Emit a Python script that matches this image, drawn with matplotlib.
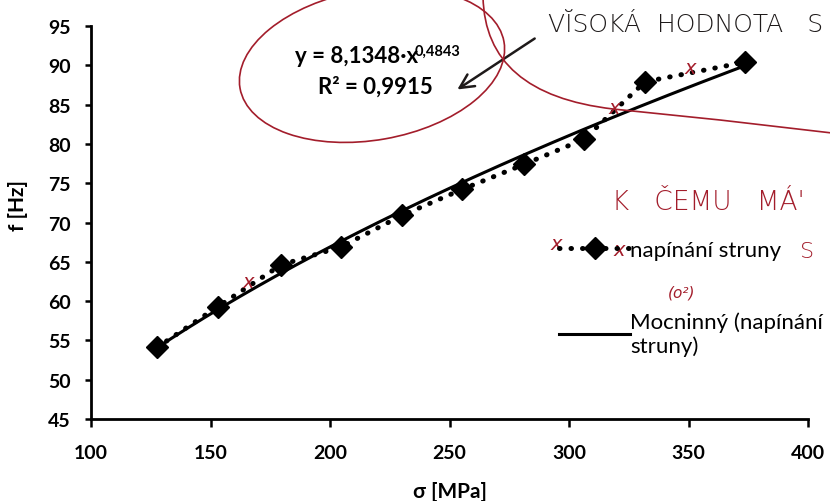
import numpy as np
import matplotlib
matplotlib.use("Agg")
import matplotlib.pyplot as plt
from matplotlib.patches import Ellipse, PathPatch
from matplotlib.path import Path
from matplotlib.transforms import IdentityTransform

plt.rcParams["font.family"] = ["Lato", "DejaVu Sans"]

# napínání struny: stress [MPa] vs. frequency [Hz]
sigma = [127.6, 153.1, 179.5, 204.6, 230.1, 255.2, 281.2, 306.3, 331.8, 373.6]
freq = [54.1, 59.3, 64.6, 66.9, 70.9, 74.2, 77.4, 80.6, 87.9, 90.4]

xticks = [100, 150, 200, 250, 300, 350, 400]
yticks = [45, 50, 55, 60, 65, 70, 75, 80, 85, 90, 95]

RED = "#a31d2b"
INK = "#1e1a1a"
H = 502  # figure height in px, for the handwritten notes

fig = plt.figure(figsize=(8.3, 5.02), dpi=100)
ax = fig.add_axes([91/830, 82/502, 717/830, 393/502])

# power trendline fitted to the data (log-log)
b, a = np.polyfit(np.log(sigma), np.log(freq), 1)
xs = np.linspace(min(sigma), max(sigma), 200)
ax.plot(xs, np.exp(a) * xs**b, color="black", lw=2.2,
        label="Mocninný (napínání\nstruny)", zorder=2)
ax.plot(sigma, freq, ls=(0, (0.1, 2.2)), dash_capstyle="round", lw=3.6,
        color="black", marker="D", ms=11, label="napínání struny", zorder=3)

ax.set_xlim(100, 400)
ax.set_ylim(45, 95)
ax.set_xticks(xticks)
ax.set_yticks(yticks)
for s in ["top", "right"]:
    ax.spines[s].set_visible(False)
for s in ["left", "bottom"]:
    ax.spines[s].set_linewidth(2)
ax.tick_params(direction="out", width=1.8, labelsize=14)
ax.tick_params(axis="x", length=6, pad=12)
ax.tick_params(axis="y", length=4.5, pad=10)
for lab in ax.get_xticklabels() + ax.get_yticklabels():
    lab.set_fontweight("bold")
ax.set_xlabel("σ [MPa]", fontsize=15, fontweight="bold")
ax.set_ylabel("f [Hz]", fontsize=15, fontweight="bold")
ax.xaxis.set_label_coords(0.50, -0.158)
ax.yaxis.set_label_coords(-0.088, 0.547)

h, l = ax.get_legend_handles_labels()
fig.legend(h[::-1], l[::-1], loc="upper left", bbox_to_anchor=(548/830, 1 - 230/H),
           frameon=False, fontsize=16, handlelength=3.2, handletextpad=0.0,
           labelspacing=2.3, borderpad=0)

# trendline equation
fig.text(295/830, 1 - 63/H, "y = 8,1348·x", fontsize=16, fontweight="bold",
         va="baseline")
fig.text(415/830, 1 - 56/H, "0,4843", fontsize=10.5, fontweight="bold",
         va="baseline")
fig.text(433/830, 1 - 94/H, "R² = 0,9915", fontsize=16, fontweight="bold",
         va="baseline", ha="right")

# handwritten notes
ident = IdentityTransform()
fig.add_artist(Ellipse((372, H - 66), 268, 150, angle=10, fill=False,
                       ec=RED, lw=1.2, transform=ident))
curve = Path([(483, H + 2), (485, H - 95), (613, H - 110), (720, H - 121), (832, H - 134)],
             [Path.MOVETO, Path.CURVE3, Path.CURVE3, Path.LINETO, Path.LINETO])
fig.add_artist(PathPatch(curve, fill=False, ec=RED, lw=1.2, transform=ident))
fig.text(548/830, 1 - 32/H, "VĬSOKÁ  HODNOTA   S", fontsize=18, color=INK,
         family="DejaVu Sans", fontweight="light")
fig.text(612/830, 1 - 210/H, "K   ČEMU   MÁ'", fontsize=19, color=RED,
         family="DejaVu Sans", fontweight="light")
fig.text(800/830, 1 - 258/H, "S", fontsize=16, color=RED,
         family="DejaVu Sans", fontweight="light")
fig.text(668/830, 1 - 298/H, "(o²)", fontsize=11, color=RED, style="italic",
         family="DejaVu Sans")
ax.annotate("", xy=(455, H - 92), xytext=(537, H - 38), xycoords=ident,
            textcoords=ident,
            arrowprops=dict(arrowstyle="->", color=INK, lw=1.8, mutation_scale=25))
for px, py in [(248, 283), (614, 108), (690, 68), (556, 245), (619, 251)]:
    fig.text(px/830, 1 - py/H, "x", fontsize=14, color=RED, style="italic",
             family="DejaVu Sans", ha="center", va="center")

fig.savefig("out.png", dpi=100)
